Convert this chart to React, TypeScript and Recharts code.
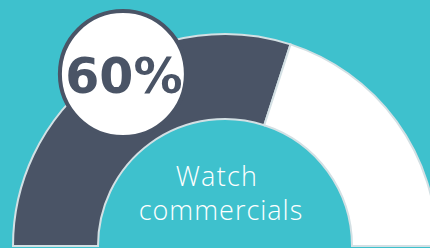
import React from "react";
import { PieChart, Pie, Cell } from "recharts";

const categories = ["Watch commercials", "Other"];
const values = [60, 40];

const COLORS = ["#4a5466", "#ffffff"];
const TEAL = "#3ec1cd";
const DARK = "#4a5466";

const CX = 225;
const CY = 246;
const OUTER = 212;
const INNER = 127;

const data = categories.map((name, i) => ({ name, value: values[i] }));

const total = values.reduce((sum, v) => sum + v, 0);
const percent = `${Math.round((values[0] / total) * 100)}%`;

// bubble sits on the outer rim of the dark slice
const bubbleAngle = (120.7 * Math.PI) / 180;
const BX = CX + 200 * Math.cos(bubbleAngle);
const BY = CY - 200 * Math.sin(bubbleAngle);

const Overlay = () => (
  <svg
    width={430}
    height={248}
    style={{ position: "absolute", left: 0, top: 0, pointerEvents: "none" }}
  >
    <circle cx={BX} cy={BY} r={63} fill="#ffffff" stroke={DARK} strokeWidth={4} />
    <text
      x={BX + 1}
      y={BY + 19}
      textAnchor="middle"
      fill={DARK}
      fontFamily="'DejaVu Sans', sans-serif"
      fontWeight={700}
      fontSize={49}
    >
      {percent}
    </text>
    <text
      x={CX - 8}
      y={186}
      textAnchor="middle"
      fill="#ffffff"
      fontFamily="'Open Sans', sans-serif"
      fontWeight={300}
      fontSize={27}
      letterSpacing={1.3}
    >
      Watch
    </text>
    <text
      x={CX - 4}
      y={220}
      textAnchor="middle"
      fill="#ffffff"
      fontFamily="'Open Sans', sans-serif"
      fontWeight={300}
      fontSize={27}
      letterSpacing={1}
    >
      commercials
    </text>
  </svg>
);

export default function App() {
  return (
    <div
      style={{
        position: "fixed",
        left: 0,
        top: 0,
        width: 430,
        height: 248,
        background: TEAL,
        overflow: "hidden",
      }}
    >
      <PieChart width={430} height={248} margin={{ top: 0, right: 0, bottom: 0, left: 0 }}>
        <Pie
          data={data}
          dataKey="value"
          nameKey="name"
          cx={CX}
          cy={CY}
          startAngle={180}
          endAngle={0}
          innerRadius={INNER}
          outerRadius={OUTER}
          stroke="#d3e0e4"
          strokeWidth={2}
          isAnimationActive={false}
        >
          {data.map((entry, index) => (
            <Cell key={`cell-${index}`} fill={COLORS[index % COLORS.length]} />
          ))}
        </Pie>
      </PieChart>
      <Overlay />
    </div>
  );
}
